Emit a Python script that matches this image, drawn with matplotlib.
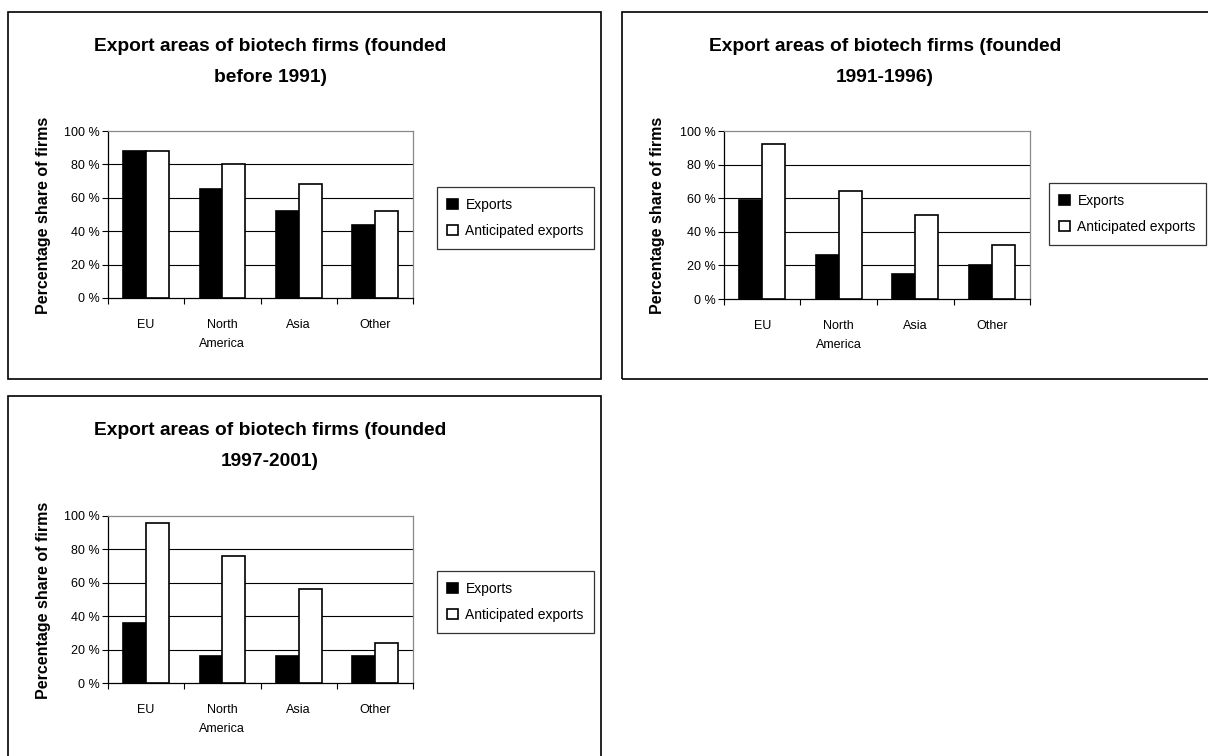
import matplotlib
matplotlib.use("Agg")
import matplotlib.pyplot as plt
import matplotlib.patches as mpatches
import numpy as np

plt.rcParams['font.family'] = ['Liberation Sans', 'DejaVu Sans']

categories = ["EU", "North\nAmerica", "Asia", "Other"]
series_names = ["Exports", "Anticipated exports"]

titles = [
    "Export areas of biotech firms (founded\nbefore 1991)",
    "Export areas of biotech firms (founded\n1991-1996)",
    "Export areas of biotech firms (founded\n1997-2001)",
]

exports_before_1991 = [88, 65, 52, 44]
anticipated_before_1991 = [88, 80, 68, 52]

exports_1991_1996 = [59, 26, 15, 20]
anticipated_1991_1996 = [92, 64, 50, 32]

exports_1997_2001 = [36, 16, 16, 16]
anticipated_1997_2001 = [96, 76, 56, 24]

y_ticks = [0, 20, 40, 60, 80, 100]
y_label = "Percentage share of firms"

W, H = 1208, 756
fig = plt.figure(figsize=(W / 100, H / 100), dpi=100)


def fx(px):
    return px / W


def fy(py):
    return 1 - py / H


# panel layout (pixel coordinates of the reference)
panels = [
    dict(box=(8, 12, 601, 379), ax=(108, 131, 413, 298), title_c=(270, 62),
         ylab=(44, 215), leg=(437, 218),
         exp=exports_before_1991, ant=anticipated_before_1991, title=titles[0]),
    dict(box=(622, 12, 1215, 379), ax=(724, 131, 1030, 299), title_c=(885, 62),
         ylab=(658, 215), leg=(1049, 214),
         exp=exports_1991_1996, ant=anticipated_1991_1996, title=titles[1]),
    dict(box=(8, 396, 601, 770), ax=(108, 516, 413, 683), title_c=(270, 446),
         ylab=(44, 600), leg=(437, 602),
         exp=exports_1997_2001, ant=anticipated_1997_2001, title=titles[2]),
]

x = np.arange(len(categories)) + 0.5
bw = 0.30

for p in panels:
    bx0, by0, bx1, by1 = p['box']
    rect = mpatches.Rectangle((fx(bx0), fy(by1)), fx(bx1) - fx(bx0), fy(by0) - fy(by1),
                              transform=fig.transFigure, fill=False,
                              edgecolor='black', linewidth=1.2, zorder=0)
    fig.add_artist(rect)

    ax0, ay0, ax1, ay1 = p['ax']
    ax = fig.add_axes([fx(ax0), fy(ay1), fx(ax1) - fx(ax0), fy(ay0) - fy(ay1)])
    b1 = ax.bar(x - bw / 2, p['exp'], bw, color='black', edgecolor='black',
                linewidth=1.2, label=series_names[0], zorder=3)
    b2 = ax.bar(x + bw / 2, p['ant'], bw, color='white', edgecolor='black',
                linewidth=1.2, label=series_names[1], zorder=3)
    ax.set_xlim(0, len(categories))
    ax.set_ylim(0, 100)
    ax.set_yticks(y_ticks)
    ax.set_yticklabels([f"{v} %" for v in y_ticks], fontsize=9)
    ax.set_xticks(np.arange(len(categories) + 1))
    ax.set_xticklabels([])
    ax.set_xticks(x, minor=True)
    ax.set_xticklabels(categories, minor=True, fontsize=9, linespacing=1.75)
    ax.tick_params(axis='x', which='minor', length=0, pad=15)
    ax.tick_params(axis='x', which='major', length=4, width=0.8, direction='out')
    ax.tick_params(axis='y', length=4, width=0.8, direction='out', pad=2)
    for yv in y_ticks[1:-1]:
        ax.axhline(yv, color='black', linewidth=0.8, zorder=1)
    ax.spines['top'].set_color('#888888')
    ax.spines['right'].set_color('#888888')
    ax.spines['left'].set_color('black')
    ax.spines['bottom'].set_color('black')
    for s in ax.spines.values():
        s.set_linewidth(0.9)

    tcx, tcy = p['title_c']
    fig.text(fx(tcx), fy(tcy), p['title'], ha='center', va='center',
             fontsize=13.8, fontweight='bold', linespacing=2.1)

    lx, ly = p['ylab']
    fig.text(fx(lx), fy(ly), y_label, rotation=90, ha='center', va='center',
             fontsize=11.5, fontweight='heavy')

    lx0, lyc = p['leg']
    leg = ax.legend(handles=[b1, b2], labels=series_names,
                    loc='center left',
                    bbox_to_anchor=(fx(lx0), fy(lyc)),
                    bbox_transform=fig.transFigure,
                    fontsize=10, frameon=True, fancybox=False, shadow=False,
                    handlelength=0.75, handleheight=0.75, handletextpad=0.55,
                    borderpad=0.75, labelspacing=0.9, borderaxespad=0)
    leg.get_frame().set_edgecolor('black')
    leg.get_frame().set_linewidth(0.9)

fig.savefig("out.png", dpi=100)
